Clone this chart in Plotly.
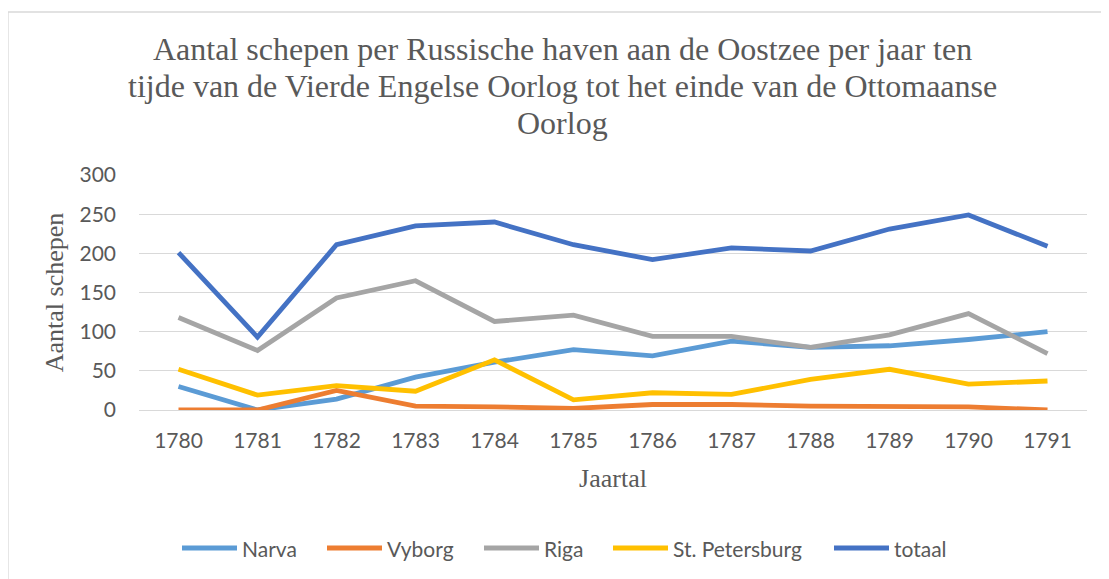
import plotly.graph_objects as go

years = ["1780", "1781", "1782", "1783", "1784", "1785", "1786", "1787", "1788", "1789", "1790", "1791"]
narva = [30, 0, 14, 42, 61, 77, 69, 88, 80, 82, 90, 100]
vyborg = [0, 0, 25, 5, 4, 2, 7, 7, 5, 4, 4, 0]
riga = [118, 76, 143, 165, 113, 121, 94, 94, 80, 96, 123, 72]
st_petersburg = [52, 19, 31, 24, 64, 13, 22, 20, 39, 52, 33, 37]
totaal = [201, 93, 211, 235, 240, 211, 192, 207, 203, 231, 249, 209]

series_names = ["Narva", "Vyborg", "Riga", "St. Petersburg", "totaal"]
series_values = [narva, vyborg, riga, st_petersburg, totaal]
colors = ["#5B9BD5", "#ED7D31", "#A5A5A5", "#FFC000", "#4472C4"]

title_lines = [
    "Aantal schepen per Russische haven aan de Oostzee per jaar ten",
    "tijde van de Vierde Engelse Oorlog tot het einde van de Ottomaanse",
    "Oorlog",
]

W, H = 1109, 579
OFF = 8  # page body margin offset
# plot area in page (screenshot) pixel coordinates
PL, PR, PT, PB = 139, 1087, 175, 410
L, R, T, B = PL - OFF, PR - OFF, PT - OFF, PB - OFF


def px_x(p):
    return (p - OFF - L) / (R - L)


def px_y(p):
    return (B - (p - OFF)) / (B - T)


fig = go.Figure()
for name, vals, col in zip(series_names, series_values, colors):
    fig.add_trace(go.Scatter(
        x=years, y=vals, name=name, mode="lines",
        line=dict(color=col, width=4.8),
        showlegend=False,
    ))

grey = "#595959"
serif = "Liberation Serif, Times New Roman, serif"
sans = "Lato, Calibri, sans-serif"

shapes = [dict(type="rect", xref="paper", yref="paper",
               x0=px_x(8), x1=px_x(1140), y0=px_y(600), y1=px_y(12),
               line=dict(color="#D9D9D9", width=1.3), fillcolor="rgba(0,0,0,0)",
               layer="below")]
annotations = []

# title lines (baselines in page px)
title_size = 32
title_base = [62, 99, 136]
for txt, yb in zip(title_lines, title_base):
    annotations.append(dict(text=txt, xref="paper", yref="paper",
                            x=px_x(562), y=px_y(yb), xanchor="center", yanchor="bottom",
                            yshift=-0.23 * title_size, showarrow=False,
                            font=dict(family=serif, size=title_size, color=grey)))

# legend
leg_x = [182, 327, 484, 613, 834]
leg_y = 548
for name, col, x0 in zip(series_names, colors, leg_x):
    shapes.append(dict(type="line", xref="paper", yref="paper",
                       x0=px_x(x0), x1=px_x(x0 + 55), y0=px_y(leg_y), y1=px_y(leg_y),
                       line=dict(color=col, width=5)))
    annotations.append(dict(text=name, xref="paper", yref="paper",
                            x=px_x(x0 + 58), y=px_y(leg_y), xanchor="left", yanchor="middle",
                            showarrow=False, font=dict(family=sans, size=21, color=grey)))

fig.update_layout(
    width=W, height=H,
    margin=dict(l=L, r=W - R, t=T, b=H - B, autoexpand=False),
    paper_bgcolor="white", plot_bgcolor="white",
    showlegend=False,
    shapes=shapes, annotations=annotations,
    xaxis=dict(
        type="category", range=[-0.5, 11.5],
        showgrid=False, zeroline=False,
        showline=True, linecolor="#D9D9D9", linewidth=1.3,
        ticks="", ticklabelstandoff=12,
        tickfont=dict(family=sans, size=21, color=grey),
        title=dict(text="Jaartal", font=dict(family=serif, size=26, color=grey), standoff=17),
    ),
    yaxis=dict(
        range=[0, 300], tick0=0, dtick=50,
        showgrid=True, gridcolor="#D9D9D9", gridwidth=1.3,
        zeroline=False, showline=False,
        ticks="", ticklabelstandoff=22,
        tickfont=dict(family=sans, size=21, color=grey),
        title=dict(text="Aantal schepen", font=dict(family=serif, size=26, color=grey), standoff=8),
    ),
)

fig.write_html("out.html")
